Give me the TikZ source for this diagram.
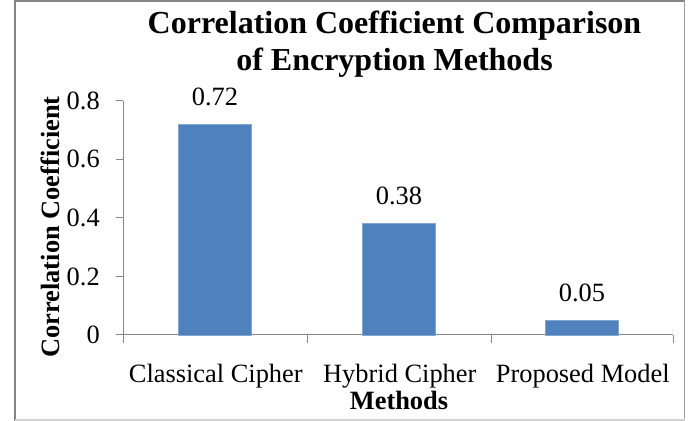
\documentclass[tikz,border=0pt]{standalone}
\usepackage{fontspec}
\setmainfont{Liberation Serif}
\definecolor{barblue}{HTML}{4F81BD}
\definecolor{axisgray}{HTML}{868686}
\tikzset{bar/.style={fill=barblue,draw=barblue!70!white,line width=0.6pt},
         axisline/.style={axisgray,line width=0.75pt},
         chartlabel/.style={font=\fontsize{19.8}{23}\selectfont,inner sep=0pt},
         charttitle/.style={font=\fontsize{24}{28}\selectfont\bfseries,inner sep=0pt}}

\begin{document}
\begin{tikzpicture}[x=0.75pt,y=0.75pt]
                  \useasboundingbox (0,0) rectangle (693,421);
                  \draw[gray!95,line width=1.9pt] (15,0) -- (15,420) -- (684.5,420);
                  \draw[gray!75,line width=1.2pt] (684.5,420) -- (684.5,0.5);
                  \draw[gray!35,line width=1pt] (15,1) -- (684.5,1);
                  \node[charttitle,anchor=base] (title1) at (394.5,387) {Correlation Coefficient Comparison};
                  \node[charttitle,anchor=base] (title2) at (394.5,350) {of Encryption Methods};
                  \draw[axisline] (123,86) -- (123,{86+292.9*0.8});
                  \draw[axisline] (116,86) -- (673,86);
                  \foreach \v in {0,0.2,0.4,0.6,0.8} {
                      \draw[axisline] (116,{86+292.9*\v}) -- (123,{86+292.9*\v});
                      \node[chartlabel,anchor=east] (tick-\v) at (100,{86+292.9*\v}) {\v};
                  }
                  \foreach \x in {123,307,491,673}
                      \draw[axisline] (\x,86) -- (\x,78);
                  \foreach \c/\v/\n/\t in {215/0.72/classical/Classical Cipher,399/0.38/hybrid/Hybrid Cipher,582/0.05/proposed/Proposed Model} {
                      \draw[bar] ({\c-36.5},86) rectangle ({\c+36.5},{86+292.9*\v});
                      \node[chartlabel,anchor=base] (val-\n) at (\c,{86+292.9*\v+18.7}) {\v};
                      \node[chartlabel,anchor=base] (cat-\n) at ({\c+0.8},38) {\t};
                  }
                  \node[chartlabel,font=\fontsize{19.8}{23}\selectfont\bfseries,anchor=base] (xtitle) at (399,11) {Methods};
                  \node[chartlabel,font=\fontsize{19.8}{23}\selectfont\bfseries,anchor=base,rotate=90] (ytitle) at (59,194) {Correlation Coefficient};
              \end{tikzpicture}
\end{document}
